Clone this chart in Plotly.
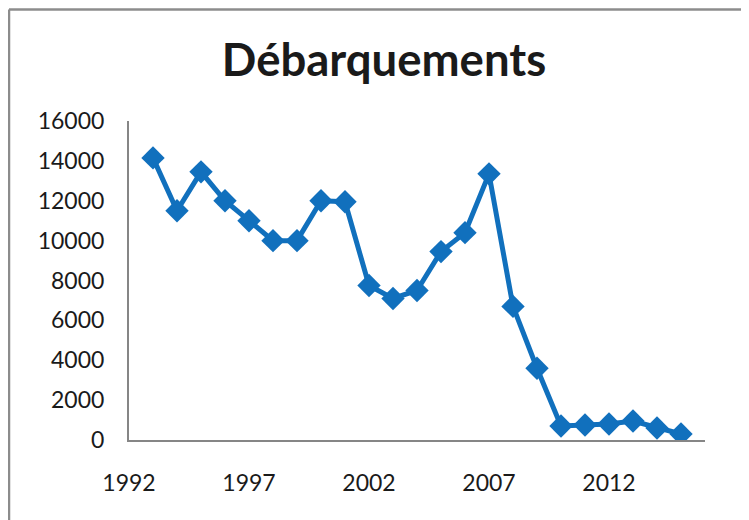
import plotly.graph_objects as go

# landings per year
years = [1993, 1994, 1995, 1996, 1997, 1998, 1999, 2000, 2001, 2002, 2003, 2004,
         2005, 2006, 2007, 2008, 2009, 2010, 2011, 2012, 2013, 2014, 2015]
landings = [14150, 11500, 13450, 12000, 11000, 10000, 10000, 12000, 11950, 7750, 7100, 7500,
            9450, 10400, 13350, 6700, 3600, 700, 750, 800, 950, 600, 300]

x_ticks = [1992, 1997, 2002, 2007, 2012]
y_ticks = [0, 2000, 4000, 6000, 8000, 10000, 12000, 14000, 16000]

blue = "#1170BD"
axis_grey = "#868686"
font = "Lato"

fig = go.Figure()
fig.add_trace(go.Scatter(
    x=years, y=landings,
    mode="lines+markers",
    line=dict(color=blue, width=5),
    marker=dict(symbol="diamond", size=18, color=blue),
    showlegend=False,
))

# the page body adds 8px, so plot area lands at x 129-705, y 121-440 on screen
L, R, T, B = 121, 52, 113, 88
W, H = 749, 520
pw, ph = W - L - R, H - T - B

# outer chart border (top and left edges are visible, the rest is cropped)
bx = (1 - L) / pw
by = (H - B - 1.5) / ph

fig.update_layout(
    width=W, height=H,
    margin=dict(l=L, r=R, t=T, b=B),
    paper_bgcolor="white", plot_bgcolor="white",
    title=dict(text="<b>Débarquements</b>", x=376 / W, xanchor="center",
               y=1 - 52 / H, yanchor="middle",
               font=dict(family=font, size=45.5, color="#1a1a1a")),
    font=dict(family=font, size=23, color="#1a1a1a"),
    xaxis=dict(range=[1992, 2016], tickvals=x_ticks, ticktext=[str(v) for v in x_ticks],
               showgrid=False, zeroline=False, automargin=False,
               showline=True, linecolor=axis_grey, linewidth=2, ticks="",
               ticklabelstandoff=21),
    yaxis=dict(range=[0, 16000], tickvals=y_ticks, ticktext=[str(v) for v in y_ticks],
               showgrid=False, zeroline=False, automargin=False,
               showline=True, linecolor=axis_grey, linewidth=2, ticks="",
               ticklabelstandoff=18),
    shapes=[
        dict(type="line", xref="paper", yref="paper", x0=bx, x1=bx, y0=-1, y1=by,
             line=dict(color="#8c8c8c", width=2.5)),
        dict(type="line", xref="paper", yref="paper", x0=bx, x1=1.2, y0=by, y1=by,
             line=dict(color="#8c8c8c", width=2.5)),
    ],
)

fig.write_html("out.html")
